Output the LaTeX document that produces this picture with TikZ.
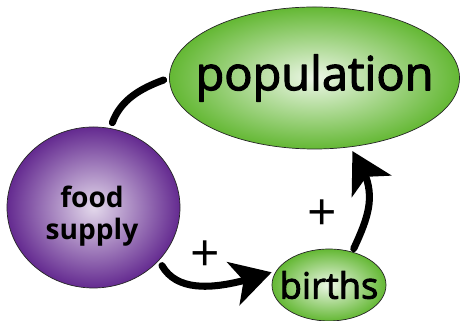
\documentclass[tikz,border=0pt]{standalone}
\usepackage{fontspec}
\setmainfont{Open Sans}
\newfontfamily\heavyfont{Open Sans}[FakeBold=2.5]
\usetikzlibrary{arrows.meta,shapes.geometric,bending}
\definecolor{popgreen}{RGB}{100,184,52}
\definecolor{foodpurple}{RGB}{100,42,144}
\begin{document}
\begin{tikzpicture}[x=0.03cm, y=0.03cm, line join=round, line cap=round,
	>={Stealth[length=34pt, width=38pt, inset=9pt]},
	greenoval/.style={ellipse, draw=black!85, line width=0.6pt, shading=radial, inner color=white!88!popgreen, outer color=popgreen},
	purpleoval/.style={ellipse, draw=black!85, line width=0.6pt, shading=radial, inner color=white!82!foodpurple, outer color=foodpurple},
	link/.style={line width=6pt, black}]
	%%Khung hình
	\useasboundingbox (0,0) rectangle (462,321);
	%%Các nút
	\node[greenoval, minimum width=8.7cm, minimum height=4.26cm] (pop) at (314.5,243) {};
	\node[purpleoval, minimum width=5.19cm, minimum height=4.83cm] (food) at (93.5,113.5) {};
	\node[greenoval, minimum width=3.42cm, minimum height=2.16cm] (births) at (329,36) {};
	\node[font=\heavyfont\fontsize{40}{40}\selectfont] (poptext) at (pop) {population};
	\node[font=\heavyfont\fontsize{31}{31}\selectfont] (birthstext) at (births) {births};
	\node[font=\bfseries\fontsize{24}{27}\selectfont, align=center] (foodtext) at (92,105) {food\\supply};
	%%Các mũi tên
	\draw[link, shorten <=5pt, shorten >=5pt] (food.78) to[out=70, in=200] (pop.west);
	\draw[link, ->, shorten <=5pt, shorten >=4pt] (food.-39) to[out=-60, in=198] (births.165);
	\draw[link, ->, shorten <=3pt, shorten >=4pt] (births.55) to[out=65, in=-55, looseness=1.2] (pop.-63);
	\node[font=\fontsize{44}{44}\selectfont] (plusa) at (205,65) {+};
	\node[font=\fontsize{44}{44}\selectfont] (plusb) at (322,106) {+};
\end{tikzpicture}
\end{document}
